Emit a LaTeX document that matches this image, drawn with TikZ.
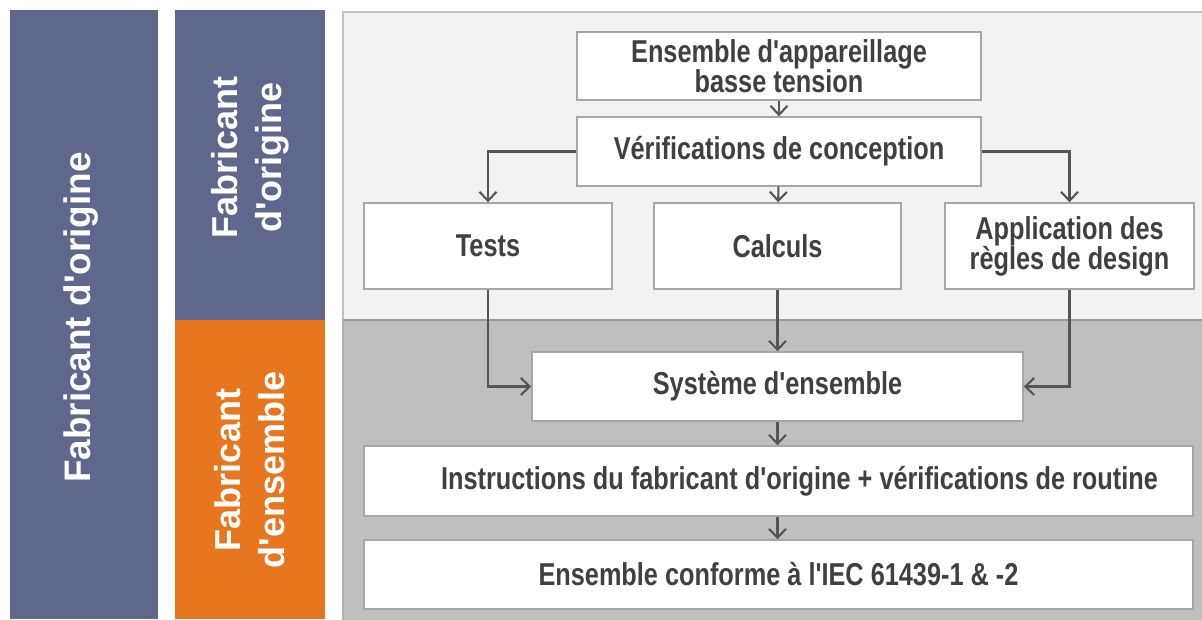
\documentclass[tikz,border=0pt]{standalone}
\usepackage{fontspec}
\newfontfamily\sidefont{Liberation Sans}
\newfontfamily\boxfont[FakeStretch=0.80]{Liberation Sans}
\usetikzlibrary{arrows.meta,positioning}
\definecolor{OrigPurple}{HTML}{5F688C}
\definecolor{AssyOrange}{HTML}{E8761F}
\definecolor{PanelLight}{HTML}{F2F2F2}
\definecolor{PanelDark}{HTML}{BFBFBF}
\definecolor{BoxLine}{HTML}{A6A6A6}
\definecolor{Ink}{HTML}{404040}
\definecolor{ArrowInk}{HTML}{555555}

\begin{document}
\begin{tikzpicture}[
  wbox/.style={draw=BoxLine,line width=0.8pt,fill=white,align=center,text=Ink,font=\boxfont\bfseries\fontsize{18}{20}\selectfont},
  sidetext/.style={text=white,align=center,font=\sidefont\bfseries\fontsize{20.5}{25}\selectfont,rotate=90},
  arr/.style={-{Straight Barb[length=1.8mm,width=3.4mm]},draw=ArrowInk,line width=1.2pt}
]
\useasboundingbox (0,0) rectangle (24.04,-12.38);
% side columns
\fill[OrigPurple] (0.2,-0.2) rectangle (3.16,-12.38);
\fill[OrigPurple] (3.5,-0.2) rectangle (6.5,-6.4);
\fill[AssyOrange] (3.5,-6.4) rectangle (6.5,-12.38);
\node[sidetext,font=\sidefont\bfseries\fontsize{21}{25}\selectfont] (fo) at (1.62,-6.35) {Fabricant d'origine};
\node[sidetext] (fo2) at (5.0,-3.15) {Fabricant\\d'origine};
\node[sidetext] (fe) at (5.0,-9.4) {Fabricant\\d'ensemble};
% panels
\filldraw[fill=PanelLight,draw=PanelDark,line width=0.8pt] (6.86,-0.24) rectangle (24.2,-6.4);
\fill[PanelDark] (6.86,-6.4) rectangle (24.2,-12.5);
\draw[draw=gray!80,line width=1.5pt] (6.86,-6.4) -- (24.2,-6.4);
\draw[draw=gray!60,line width=0.8pt] (6.86,-6.4) -- (6.86,-12.5);
% boxes
\node[wbox,minimum width=8.08cm,minimum height=1.36cm,font=\boxfont\bfseries\fontsize{18}{17}\selectfont] (lv) at (15.58,-1.32) {Ensemble d'appareillage\\basse tension};
\node[wbox,minimum width=8.08cm,minimum height=1.38cm] (verif) at (15.58,-3.03) {Vérifications de conception};
\node[wbox,minimum width=4.96cm,minimum height=1.72cm] (tests) at (9.76,-4.92) {Tests};
\node[wbox,minimum width=4.94cm,minimum height=1.72cm] (calc) at (15.55,-4.92) {Calculs};
\node[wbox,minimum width=4.98cm,minimum height=1.72cm,font=\boxfont\bfseries\fontsize{18}{17}\selectfont] (rules) at (21.39,-4.92) {Application des\\règles de design};
\node[wbox,minimum width=9.82cm,minimum height=1.38cm] (sys) at (15.55,-7.73) {Système d'ensemble};
\node[wbox,minimum width=16.58cm,minimum height=1.40cm] (instr) at (15.57,-9.62) {\hspace*{0.84cm}Instructions du fabricant d'origine + vérifications de routine};
\node[wbox,minimum width=16.58cm,minimum height=1.38cm] (conf) at (15.57,-11.49) {Ensemble conforme à l'IEC 61439-1 \& -2};
% arrows
\draw[arr] (lv) -- (verif);
\draw[arr] (verif.west) -| (tests.north);
\draw[arr] (verif) -- (calc);
\draw[arr] (verif.east) -| (rules.north);
\draw[arr] (tests.south) |- (sys.west);
\draw[arr] (calc) -- (sys);
\draw[arr] (rules.south) |- (sys.east);
\draw[arr] (sys.south) -- (instr.north -| sys.south);
\draw[arr] (instr.south -| sys.south) -- (conf.north -| sys.south);
\end{tikzpicture}
\end{document}
